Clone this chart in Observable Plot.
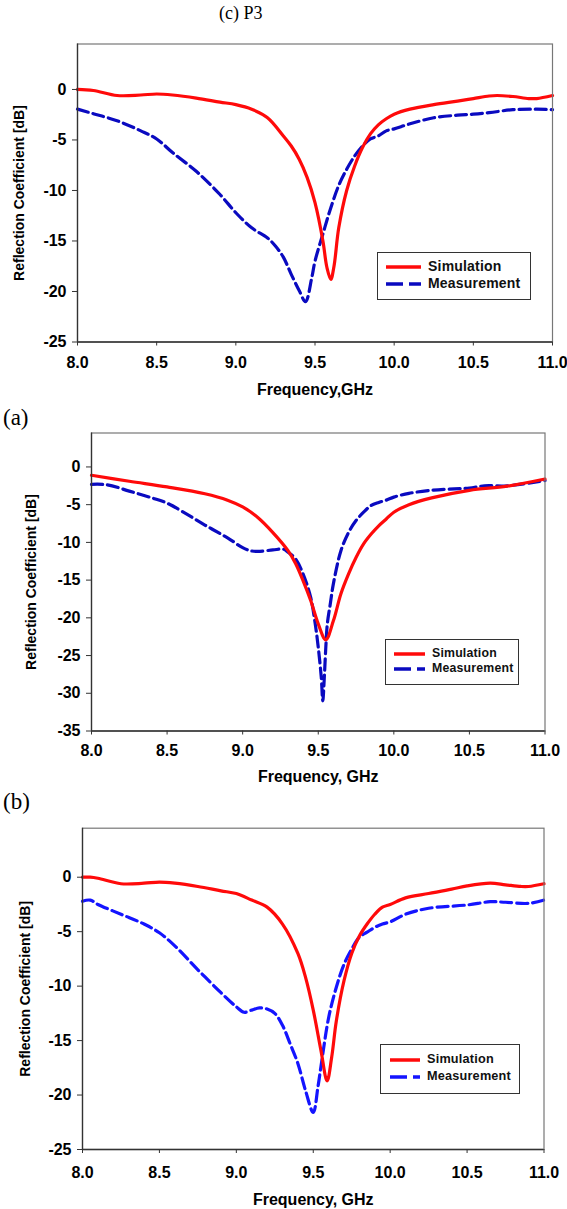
<!DOCTYPE html>
<html><head><meta charset="utf-8">
<script src="https://cdn.jsdelivr.net/npm/d3@7"></script>
<script src="https://cdn.jsdelivr.net/npm/@observablehq/plot@0.6"></script>
<style>
body{margin:0;background:#fff;}
#root{position:relative;width:567px;height:1209px;overflow:hidden;font-family:"Liberation Sans",Arial,sans-serif;}
.panel{position:absolute;left:0;}
.cap{position:absolute;font-family:"Liberation Serif","Times New Roman",serif;color:#000;white-space:nowrap;line-height:1;}
.legend{position:absolute;border:1.5px solid #333;background:#fff;box-sizing:border-box;font-weight:bold;color:#111;}
.legend svg{display:block;}
</style></head><body><div id="root"></div>
<script>
// ---------- data ----------
const freqTicks = [8, 8.5, 9, 9.5, 10, 10.5, 11];
const seriesNames = ["Simulation", "Measurement"];
const panelTitles = ["(c) P3", "(a)", "(b)"];
const xTitles = ["Frequency,GHz", "Frequency, GHz", "Frequency, GHz"];
const yTitle = "Reflection Coefficient [dB]";
const yTicksA = [0, -5, -10, -15, -20, -25];
const yTicksB = [0, -5, -10, -15, -20, -25, -30, -35];

// (c) P3
const p3SimFreq = [8.0,8.1,8.25,8.4,8.5,8.6,8.75,8.9,9.0,9.1,9.2,9.3,9.35,9.4,9.45,9.5,9.55,9.575,9.6,9.62,9.65,9.7,9.75,9.8,9.85,9.9,9.95,10.0,10.1,10.25,10.4,10.5,10.6,10.65,10.75,10.85,10.9,11.0];
const p3SimDb   = [0,-0.1,-0.6,-0.55,-0.45,-0.55,-0.85,-1.25,-1.5,-1.95,-2.8,-4.6,-5.6,-6.9,-8.7,-11.2,-15.0,-17.6,-18.8,-17.5,-13.7,-10.0,-7.6,-5.75,-4.4,-3.5,-2.9,-2.45,-1.95,-1.5,-1.15,-0.9,-0.65,-0.6,-0.7,-0.9,-0.9,-0.6];
const p3MeasFreq = [8.0,8.1,8.25,8.4,8.5,8.6,8.75,8.9,9.0,9.1,9.2,9.25,9.3,9.35,9.4,9.44,9.48,9.5,9.55,9.6,9.65,9.7,9.75,9.8,9.85,9.9,9.95,10.0,10.1,10.25,10.4,10.5,10.6,10.75,10.9,11.0];
const p3MeasDb   = [-1.95,-2.4,-3.1,-4.1,-4.9,-6.25,-8.1,-10.4,-12.2,-13.7,-14.7,-15.5,-16.6,-18.3,-19.9,-21.0,-18.6,-17.0,-14.3,-11.7,-9.5,-7.9,-6.6,-5.6,-4.9,-4.6,-4.1,-3.9,-3.4,-2.8,-2.55,-2.45,-2.3,-2.0,-1.95,-2.0];

// (a)
const aSimFreq = [8.0,8.25,8.5,8.75,8.9,9.0,9.1,9.2,9.3,9.35,9.4,9.45,9.5,9.55,9.6,9.65,9.7,9.75,9.8,9.85,9.9,9.95,10.0,10.1,10.25,10.5,10.75,11.0];
const aSimDb   = [-1.1,-1.9,-2.65,-3.55,-4.4,-5.3,-6.7,-8.7,-11.1,-12.8,-15.1,-17.7,-20.8,-22.9,-20.4,-16.8,-14.2,-12.0,-10.2,-8.9,-7.8,-6.9,-6.0,-5.0,-4.1,-3.1,-2.55,-1.6];
const aMeasFreq = [8.0,8.1,8.25,8.4,8.5,8.6,8.75,8.9,9.0,9.05,9.1,9.2,9.27,9.3,9.35,9.4,9.45,9.48,9.5,9.52,9.53,9.54,9.55,9.56,9.58,9.6,9.65,9.7,9.75,9.8,9.85,9.9,9.95,10.0,10.1,10.25,10.4,10.5,10.6,10.75,11.0];
const aMeasDb   = [-2.3,-2.35,-3.2,-4.1,-4.8,-5.9,-7.7,-9.4,-10.7,-11.1,-11.2,-11.0,-10.9,-11.3,-12.2,-14.2,-17.3,-20.8,-23.9,-27.9,-31.0,-27.9,-23.9,-20.8,-18.1,-15.5,-11.1,-8.7,-7.1,-6.0,-5.1,-4.7,-4.4,-4.0,-3.5,-3.1,-2.9,-2.8,-2.5,-2.5,-1.8];

// (b)
const bSimFreq = [8.0,8.05,8.1,8.25,8.4,8.5,8.6,8.75,8.9,9.0,9.1,9.2,9.3,9.4,9.45,9.5,9.55,9.59,9.62,9.65,9.7,9.75,9.8,9.85,9.9,9.95,10.0,10.1,10.25,10.4,10.5,10.65,10.75,10.85,10.9,11.0];
const bSimDb   = [0,0,-0.1,-0.6,-0.55,-0.45,-0.55,-0.85,-1.25,-1.5,-2.1,-2.75,-4.3,-7.0,-9.2,-12.2,-15.9,-18.7,-16.5,-13.2,-9.5,-7.0,-5.4,-4.3,-3.4,-2.75,-2.5,-1.9,-1.5,-1.1,-0.8,-0.55,-0.7,-0.85,-0.85,-0.6];
const bMeasFreq = [8.0,8.05,8.1,8.25,8.4,8.5,8.6,8.75,8.9,9.0,9.05,9.1,9.15,9.2,9.25,9.3,9.35,9.4,9.45,9.5,9.53,9.55,9.6,9.65,9.7,9.75,9.8,9.85,9.9,9.95,10.0,10.1,10.25,10.5,10.65,10.75,10.9,11.0];
const bMeasDb   = [-2.2,-2.1,-2.5,-3.4,-4.3,-5.1,-6.3,-8.5,-10.6,-11.9,-12.4,-12.2,-12.0,-12.1,-12.5,-13.6,-15.3,-17.1,-19.6,-21.6,-19.3,-17.4,-12.9,-10.1,-8.0,-6.6,-5.5,-5.05,-4.6,-4.3,-4.1,-3.4,-2.85,-2.55,-2.25,-2.3,-2.4,-2.1];

// ---------- layout / style ----------
const panels = [
  {simF:p3SimFreq, simD:p3SimDb, measF:p3MeasFreq, measD:p3MeasDb, yTicks:yTicksA,
   svgTop:30, svgH:375, fl:77, fr:552, ft:43.5, fb:341.5, blue:"#0a0ac0",
   title:{text:panelTitles[0], left:219, top:4, size:18},
   xTitle:xTitles[0], yLabDx:-58, xLabDy:53, tickPad:11,
   legend:{left:377, top:252, w:154, h:48, r1:15, r2:32, s0:8, s1:43, tx:50, fs:14}},
  {simF:aSimFreq, simD:aSimDb, measF:aMeasFreq, measD:aMeasDb, yTicks:yTicksB,
   svgTop:420, svgH:375, fl:91, fr:544.5, ft:432.5, fb:730.5, blue:"#0a0ac0",
   title:{text:panelTitles[1], left:3, top:406, size:23},
   xTitle:xTitles[1], yLabDx:-60, xLabDy:51, tickPad:10,
   legend:{left:385, top:639, w:134, h:46, r1:15, r2:30, s0:8, s1:39, tx:46, fs:12.3}},
  {simF:bSimFreq, simD:bSimDb, measF:bMeasFreq, measD:bMeasDb, yTicks:yTicksA,
   svgTop:815, svgH:394, fl:82, fr:543.5, ft:827.7, fb:1149, blue:"#1414ff",
   title:{text:panelTitles[2], left:3, top:790, size:23},
   xTitle:xTitles[2], yLabDx:-57, xLabDy:55, tickPad:13,
   legend:{left:380, top:1044, w:140, h:50, r1:16.5, r2:33, s0:9, s1:39, tx:46, fs:12.7}}
];

const root = document.getElementById("root");
const RED = "#ff0a0a";

panels.forEach(p => {
  const sim = p.simF.map((f, i) => ({f, db: p.simD[i]}));
  const meas = p.measF.map((f, i) => ({f, db: p.measD[i]}));
  const yMin = p.yTicks[p.yTicks.length - 1];
  const chart = Plot.plot({
    width: 567,
    height: p.svgH,
    marginLeft: p.fl,
    marginRight: 567 - p.fr,
    marginTop: p.ft - p.svgTop,
    marginBottom: p.svgTop + p.svgH - p.fb,
    style: {fontFamily: '"Liberation Sans", Arial, sans-serif', fontWeight: "bold", fontSize: "16px", color: "#000", background: "#fff", overflow: "visible"},
    x: {domain: [8, 11]},
    y: {domain: [yMin, 4.5]},
    marks: [
      Plot.line(meas, {x: "f", y: "db", stroke: p.blue, strokeWidth: 3.2, strokeDasharray: "11,5", curve: "catmull-rom"}),
      Plot.line(sim, {x: "f", y: "db", stroke: RED, strokeWidth: 3.2, curve: "catmull-rom"}),
      Plot.frame({stroke: "#777", strokeWidth: 1.2}),
      Plot.ruleX([8], {stroke: "#333", strokeWidth: 1.3}),
      Plot.ruleY([yMin], {stroke: "#333", strokeWidth: 1.3}),
      Plot.axisX(freqTicks, {tickSize: 4, tickPadding: p.tickPad, tickFormat: d3.format(".1f"), label: null, stroke: "#333"}),
      Plot.axisY(p.yTicks, {tickSize: 5, tickPadding: 6, tickFormat: d => String(d), label: null, stroke: "#333"}),
      Plot.text([yTitle], {frameAnchor: "left", dx: p.yLabDx, rotate: -90, textAnchor: "middle", lineAnchor: "middle", fontSize: 14, fontWeight: "bold"}),
      Plot.text([p.xTitle], {frameAnchor: "bottom", dy: p.xLabDy, fontSize: 16, fontWeight: "bold"})
    ]
  });
  const wrap = document.createElement("div");
  wrap.className = "panel";
  wrap.style.top = p.svgTop + "px";
  wrap.appendChild(chart);
  root.appendChild(wrap);

  const t = document.createElement("div");
  t.className = "cap";
  t.textContent = p.title.text;
  t.style.left = p.title.left + "px";
  t.style.top = p.title.top + "px";
  t.style.fontSize = p.title.size + "px";
  root.appendChild(t);

  const L = p.legend;
  const lg = document.createElement("div");
  lg.className = "legend";
  Object.assign(lg.style, {left: L.left + "px", top: L.top + "px", width: L.w + "px", height: L.h + "px", fontSize: L.fs + "px"});
  const rows = [
    {name: seriesNames[0], stroke: RED, dash: null, y: L.r1},
    {name: seriesNames[1], stroke: p.blue, dash: "17,6", y: L.r2}
  ];
  rows.forEach(r => {
    const sw = L.s1 - L.s0;
    const s = d3.create("svg").attr("width", sw).attr("height", 6)
      .style("position", "absolute").style("left", L.s0 + "px").style("top", (r.y - 3 - 1.5) + "px");
    s.append("line").attr("x1", 0).attr("x2", sw).attr("y1", 3).attr("y2", 3)
      .attr("stroke", r.stroke).attr("stroke-width", 3.5).attr("stroke-dasharray", r.dash);
    lg.appendChild(s.node());
    const tx = document.createElement("div");
    tx.textContent = r.name;
    Object.assign(tx.style, {position: "absolute", left: L.tx + "px", top: (r.y - 1.5 - L.fs * 0.6) + "px", lineHeight: "1.2", letterSpacing: "0.2px"});
    lg.appendChild(tx);
  });
  root.appendChild(lg);
});
</script></body></html>
